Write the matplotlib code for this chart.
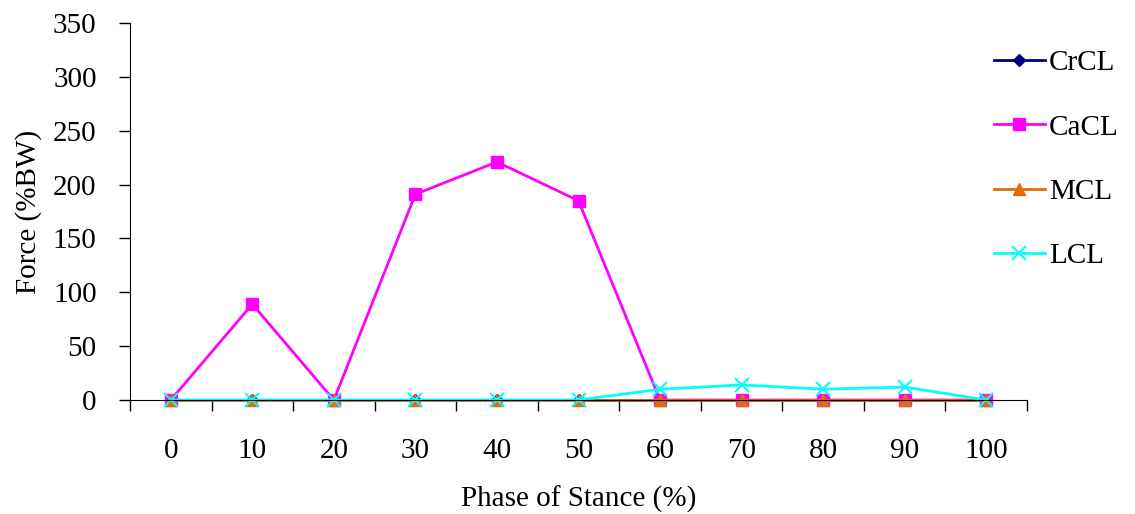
import matplotlib.pyplot as plt
import numpy as np

phase = ["0", "10", "20", "30", "40", "50", "60", "70", "80", "90", "100"]
crcl = [0, 0, 0, 0, 0, 0, 0, 0, 0, 0, 0]
cacl = [0, 89, 0, 191, 221, 185, 0, 0, 0, 0, 0]
mcl = [0, 0, 0, 0, 0, 0, 0, 0, 0, 0, 0]
lcl = [0, 0, 0, 0, 0, 0, 10, 14, 10, 12, 0]

plt.rcParams["font.family"] = ["Liberation Serif", "DejaVu Serif"]
plt.rcParams["font.size"] = 21

fig = plt.figure(figsize=(11.35, 5.14), dpi=100)
ax = fig.add_axes([130 / 1135, 114 / 514, 897 / 1135, 377 / 514])

x = np.arange(len(phase))
ax.plot(x, crcl, color="#000080", marker="D", markersize=6, lw=2, label="CrCL", clip_on=False)
ax.plot(x, cacl, color="#ff00ff", marker="s", markersize=9, lw=2, label="CaCL", clip_on=False)
ax.plot(x, mcl, color="#e36c0a", marker="^", markersize=9, lw=2, label="MCL", clip_on=False)
ax.plot(x, lcl, color="#00ffff", marker="x", markersize=10, mew=1.5, lw=2, label="LCL", clip_on=False)

ax.set_xlim(-0.5, len(phase) - 0.5)
ax.set_ylim(0, 350)
ax.set_yticks(range(0, 351, 50))
ax.set_xticks(x)
ax.set_xticklabels(phase)
ax.set_xticks(np.arange(-0.5, len(phase), 1), minor=True)
ax.tick_params(axis="x", which="major", length=0, pad=27)
ax.tick_params(axis="x", which="minor", length=8, direction="out", width=1)
ax.tick_params(axis="y", length=8, direction="out", width=1, pad=16)

for s in ["top", "right"]:
    ax.spines[s].set_visible(False)

ax.set_xlabel("Phase of Stance (%)", labelpad=16)
ax.set_ylabel("Force (%BW)", labelpad=8)

ax.legend(loc="upper left", bbox_to_anchor=(0.963, 0.929), frameon=False,
          labelspacing=1.3, handlelength=1.75, handletextpad=0.15,
          borderaxespad=0, borderpad=0)

fig.savefig("out.png", dpi=100)
